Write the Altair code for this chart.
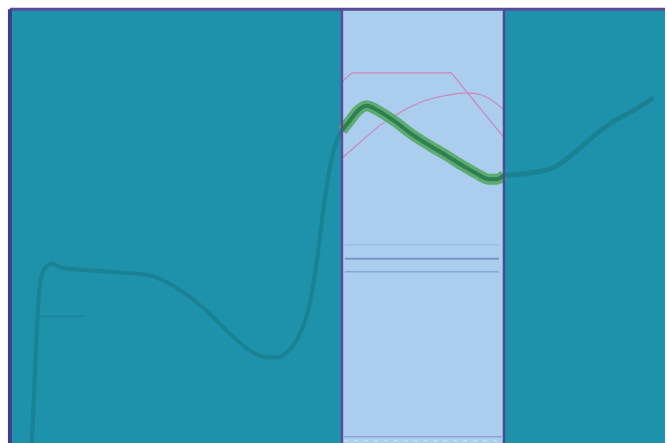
import altair as alt
import pandas as pd

# Signal trace, split into the three zones of the run
left_t = [22, 24, 27, 30, 34, 42, 52, 72, 102, 127, 142, 157, 172, 187, 202, 217, 232,
          244, 257, 269, 280, 289, 296, 302, 310, 317, 324, 330, 334]
left_v = [0, 43, 113, 158, 175, 181, 177, 175, 173, 171, 169, 163, 154, 143, 130, 115, 101,
          92, 87, 87, 93, 105, 121, 143, 193, 248, 288, 308, 315]

mid_t = [334, 342, 350, 359, 367, 377, 389, 402, 422, 439, 455, 469, 482, 489, 497]
mid_v = [315, 325, 335, 340, 337, 331, 323, 313, 300, 290, 280, 272, 266, 266, 270]

right_t = [497, 512, 527, 542, 554, 567, 582, 597, 612, 627, 640, 647]
right_v = [270, 271, 273, 276, 282, 292, 305, 317, 327, 335, 343, 348]

# Reference envelopes inside the highlighted window
env1_t = [335, 344, 444, 497]
env1_v = [365, 373, 373, 308]
env2_t = [335, 352, 372, 392, 412, 437, 459, 474, 497]
env2_v = [288, 303, 320, 333, 343, 350, 353, 351, 336]

# Highlighted window and threshold levels
window_start, window_end = 334, 497
levels = [200, 186, 173]
level_colors = ["#93b3dc", "#7a93c2", "#8aa6d4"]
level_widths = [1, 2, 1.5]

X_MAX, Y_MAX = 659, 437
xs = alt.Scale(domain=[0, X_MAX], nice=False, zero=False)
ys = alt.Scale(domain=[0, Y_MAX], nice=False, zero=False)


def line_layer(t, v, color, width, opacity=1.0, interp="monotone"):
    df = pd.DataFrame({"t": t, "v": v, "i": range(len(t))})
    return alt.Chart(df).mark_line(color=color, strokeWidth=width, opacity=opacity,
                                   interpolate=interp).encode(
        x=alt.X("t:Q", scale=xs, axis=None),
        y=alt.Y("v:Q", scale=ys, axis=None),
        order="i:Q",
    )


band_df = pd.DataFrame({"a": [window_start], "b": [window_end], "lo": [0], "hi": [Y_MAX]})
band = alt.Chart(band_df).mark_rect(color="#abcdee").encode(
    x=alt.X("a:Q", scale=xs, axis=None), x2="b:Q",
    y=alt.Y("lo:Q", scale=ys, axis=None), y2="hi:Q",
)

edges_df = pd.DataFrame({"t": [window_start, window_end], "c": ["#5b4d9e", "#4a4a95"]})
edges = alt.Chart(edges_df).mark_rule(strokeWidth=2.5).encode(
    x=alt.X("t:Q", scale=xs, axis=None),
    color=alt.Color("c:N", scale=None),
)

lv_df = pd.DataFrame({"y": levels, "c": level_colors, "w": level_widths,
                      "a": [window_start + 3] * 3, "b": [window_end - 5] * 3})
level_rules = alt.Chart(lv_df).mark_rule().encode(
    y=alt.Y("y:Q", scale=ys, axis=None),
    x=alt.X("a:Q", scale=xs, axis=None), x2="b:Q",
    color=alt.Color("c:N", scale=None),
    strokeWidth=alt.StrokeWidth("w:Q", scale=None),
)

base_df = pd.DataFrame({"y": [7, 3], "a": [window_start + 2] * 2, "b": [window_end - 2] * 2,
                        "c": ["#8ea3cc", "#c9dcf2"], "d": [0, 1]})
base_rule = alt.Chart(base_df).mark_rule(strokeWidth=1.5).encode(
    y=alt.Y("y:Q", scale=ys, axis=None),
    x=alt.X("a:Q", scale=xs, axis=None), x2="b:Q",
    color=alt.Color("c:N", scale=None),
    strokeDash=alt.StrokeDash("d:N", scale=alt.Scale(domain=[0, 1], range=[[1, 0], [4, 6]]), legend=None),
)

marker_df = pd.DataFrame({"y": [128], "a": [27], "b": [75]})
marker = alt.Chart(marker_df).mark_rule(color="#1a8499", strokeWidth=1.5).encode(
    y=alt.Y("y:Q", scale=ys, axis=None),
    x=alt.X("a:Q", scale=xs, axis=None), x2="b:Q",
)

frame_top = alt.Chart(pd.DataFrame({"y": [Y_MAX]})).mark_rule(color="#5a4a9a", strokeWidth=3).encode(
    y=alt.Y("y:Q", scale=ys, axis=None))
frame_left = alt.Chart(pd.DataFrame({"x": [0]})).mark_rule(color="#3d3f8c", strokeWidth=4).encode(
    x=alt.X("x:Q", scale=xs, axis=None))

chart = alt.layer(
    band,
    level_rules,
    base_rule,
    marker,
    line_layer(env1_t, env1_v, "#cc85bb", 1.2, interp="linear"),
    line_layer(env2_t, env2_v, "#cc85bb", 1.2),
    line_layer(left_t, left_v, "#1a8293", 4),
    line_layer(right_t, right_v, "#1a8293", 5),
    line_layer(mid_t, mid_v, "#4fa65a", 11, 0.85),
    line_layer(mid_t, mid_v, "#2f8051", 4),
    edges,
    frame_top,
    frame_left,
).properties(
    width=X_MAX, height=Y_MAX,
    padding={"left": 8, "top": 6, "right": 0, "bottom": 0},
    background="white",
).configure_view(fill="#1e92aa", strokeWidth=0)

chart.save("out.html", embed_options={"renderer": "svg", "actions": False})
